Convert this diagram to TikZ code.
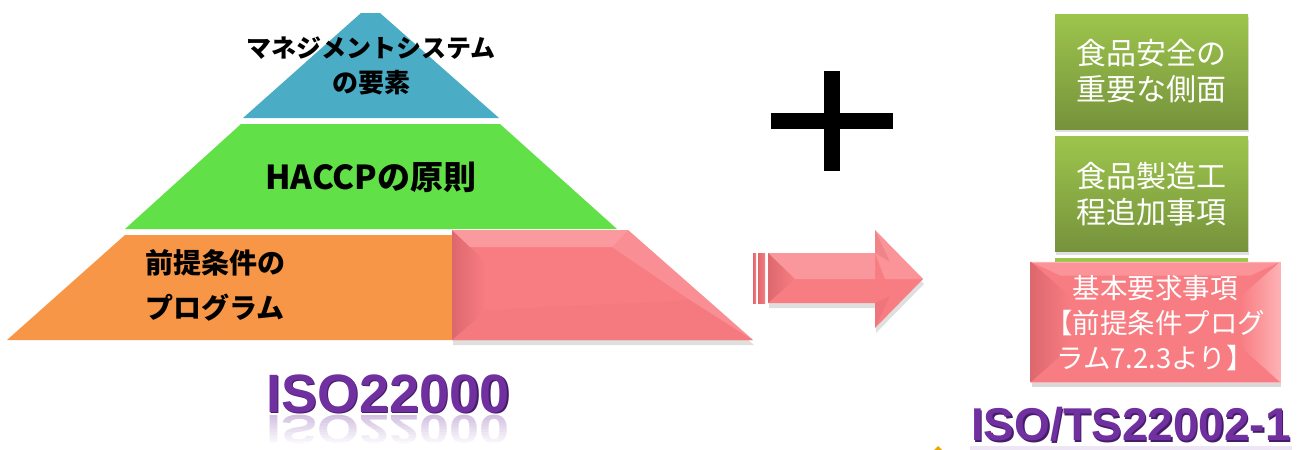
\documentclass[tikz,border=0pt]{standalone}
\usepackage{fontspec}
\setmainfont{Liberation Sans}
\newfontfamily\jp{Noto Sans CJK JP}
\usetikzlibrary{shadows,calc}
\definecolor{pyblue}{RGB}{75,172,198}
\definecolor{pygreen}{RGB}{98,224,72}
\definecolor{pyorange}{RGB}{247,150,70}
\definecolor{pinkm}{RGB}{248,125,130}
\definecolor{pinkl}{RGB}{253,178,182}
\definecolor{pinkd}{RGB}{220,104,110}
\definecolor{gtop}{RGB}{157,197,76}
\definecolor{gbot}{RGB}{118,146,60}
\definecolor{isop}{RGB}{112,48,160}
\definecolor{isod}{RGB}{70,28,105}
\definecolor{tipor}{RGB}{232,168,0}
\begin{document}
\begin{tikzpicture}[x=1pt,y=-1pt,
  pytext/.style={font=\jp\bfseries, text=black, inner sep=0pt},
  boxtext/.style={font=\jp\fontsize{30}{36}\selectfont, text=white, align=center, inner sep=0pt},
  greenbox/.style={minimum width=193pt, minimum height=115pt, inner sep=0pt, top color=gtop, bottom color=gbot,
    drop shadow={shadow xshift=1pt, shadow yshift=-3pt, opacity=.25}},
  pinkshade/.style={fill=pinkm},
  isotext/.style={font=\bfseries, text=isop, inner sep=0pt, anchor=base},
  softshadow/.style={drop shadow={shadow xshift=1pt, shadow yshift=-5pt, opacity=.25}}]
\useasboundingbox (0,0) rectangle (1302,450);

% ---------- pyramid ----------
\fill[pyblue] (243,118) -- (361,13) -- (380,13) -- (499,118) -- cycle;
\fill[pygreen] (241,124) -- (500,124) -- (617,229) -- (125,229) -- cycle;
\fill[pyorange] (125,235) -- (630,235) -- (752,340) -- (7,340) -- cycle;

% pink trapezoid with bevel
\path[pinkshade, softshadow] (452,230) -- (628,230) -- (753,340) -- (452,340) -- cycle;
\shade[left color=pinkd, right color=pinkm] (452,230) -- (486,262) -- (486,310) -- (452,340) -- cycle;
\fill[pinkl, opacity=.55] (452,230) -- (628,230) -- (612,247) -- (470,247) -- cycle;
\fill[pinkl, opacity=.35] (628,230) -- (753,340) -- (690,300) -- (612,247) -- cycle;
\fill[pinkd, opacity=.12] (486,310) -- (690,300) -- (753,340) -- (452,340) -- cycle;

\node[pytext, font=\jp\bfseries\fontsize{25}{30}\selectfont] (mgmt1) at (371,48) {マネジメントシステム};
\node[pytext, font=\jp\bfseries\fontsize{26}{30}\selectfont] (mgmt2) at (371,83) {の要素};
\node[pytext, font=\jp\bfseries\fontsize{33}{36}\selectfont] (haccp) at (371,177) {HACCPの原則};
\node[pytext, font=\jp\bfseries\fontsize{28}{30}\selectfont, anchor=west] (prp1) at (145,263) {前提条件の};
\node[pytext, font=\jp\bfseries\fontsize{28}{30}\selectfont, anchor=west] (prp2) at (145,308) {プログラム};

% ISO22000 title and reflection
\node[isotext, font=\bfseries\fontsize{54}{60}\selectfont, text=isod] (isoshadow) at (389.5,413.5) {ISO22000};
\node[isotext, font=\bfseries\fontsize{54}{60}\selectfont] (iso) at (388,412) {ISO22000};
\node[isotext, font=\bfseries\fontsize{54}{60}\selectfont, text=isop!30, yscale=-0.75] (isorefl) at (388,415) {ISO22000};
\foreach \k [evaluate=\k as \op using \k/10] in {0,...,9}
  \fill[white, opacity=\op] (250,{414+\k*3}) rectangle (530,{417.3+\k*3});
\fill[white] (250,444) rectangle (530,450);

% ---------- plus ----------
\fill[black] (771,113) rectangle (893,129);
\fill[black] (824,71) rectangle (840,171);

% ---------- arrow ----------
\shade[left color=pinkd, right color=pinkm] (753,253) rectangle (756,303);
\shade[left color=pinkd, right color=pinkm] (758,253) rectangle (765,303);
\path[pinkshade, softshadow] (768,253) -- (875,253) -- (875,230) -- (923,279) -- (875,328) -- (875,303) -- (768,303) -- cycle;
\fill[pinkl, opacity=.5] (768,253) -- (875,253) -- (875,279) -- (793,279) -- cycle;
\shade[left color=pinkd, right color=pinkm] (768,253) -- (795,279) -- (768,303) -- cycle;
\fill[pinkl, opacity=.45] (875,230) -- (923,279) -- (885,279) -- (875,253) -- cycle;
\fill[pinkd, opacity=.35] (875,230) -- (890,262) -- (875,253) -- cycle;
\fill[pinkd, opacity=.35] (875,328) -- (890,296) -- (875,303) -- cycle;

% ---------- right column ----------
\node[greenbox] (box3) at (1151.5,316) {};
\node[greenbox] (box2) at (1151.5,194) {};
\node[greenbox] (box1) at (1151.5,71.5) {};
\node[boxtext] (t1) at (box1.center) {食品安全の\\重要な側面};
\node[boxtext] (t2) at (box2.center) {食品製造工\\程追加事項};

\node[minimum width=249pt, minimum height=120pt, inner sep=0pt, fill=pinkm, draw=pinkl, line width=.8pt,
  drop shadow={shadow xshift=1pt, shadow yshift=-5pt, opacity=.3}] (basebox) at (1155.5,322) {};
\shade[left color=pinkd, right color=pinkm] (basebox.north west) -- ++(40,35) -- ++(0,50) -- (basebox.south west) -- cycle;
\shade[left color=pinkm, right color=pinkl] (basebox.north east) -- ++(-40,35) -- ++(0,50) -- (basebox.south east) -- cycle;
\fill[pinkl, opacity=.45] (basebox.north west) -- (basebox.north east) -- ++(-30,14) -- ($(basebox.north west)+(30,14)$) -- cycle;
\node[boxtext, font=\jp\fontsize{27.5}{35}\selectfont] (t3) at (1155,323) {基本要求事項\\【前提条件プログ\\ラム7.2.3より】};

% ISO/TS22002-1 title
\fill[isop!12] (970,446) rectangle (1292,450);
\node[isotext, font=\bfseries\fontsize{46}{52}\selectfont, text=isod] (istsshadow) at (1132.5,442) {ISO/TS22002-1};
\node[isotext, font=\bfseries\fontsize{46}{52}\selectfont] (ists) at (1131,440.5) {ISO/TS22002-1};

% small orange tip at the bottom edge
\fill[tipor] (934,450) -- (938,446) -- (942,450) -- cycle;
\end{tikzpicture}
\end{document}
